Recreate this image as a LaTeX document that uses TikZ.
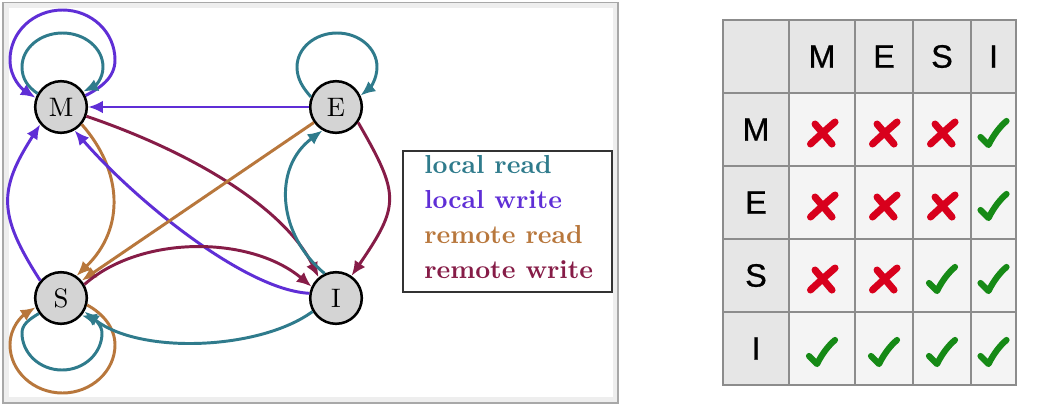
\documentclass[tikz,border=0pt]{standalone}
\usepackage{fontspec}
\newfontfamily\tablefont[FakeBold=0.8]{Liberation Sans}
\newfontfamily\statefont{lmroman10-regular}[Extension=.otf]
\newfontfamily\legendfont{lmroman10-bold}[Extension=.otf]
\usetikzlibrary{arrows.meta}

\definecolor{lread}{HTML}{2F7B8C}
\definecolor{lwrite}{HTML}{5F2ED6}
\definecolor{rread}{HTML}{B8773C}
\definecolor{rwrite}{HTML}{861C47}
\definecolor{stategray}{HTML}{D4D4D4}
\definecolor{panelband}{HTML}{EEEEEE}
\definecolor{panelline}{HTML}{A8A8A8}
\definecolor{gridgray}{HTML}{8C8C8C}
\definecolor{headfill}{HTML}{E6E6E6}
\definecolor{bodyfill}{HTML}{F4F4F4}
\definecolor{crossred}{HTML}{D8001C}
\definecolor{checkgreen}{HTML}{168A16}

\begin{document}
\begin{tikzpicture}[x=0.025cm,y=-0.025cm,
  state/.style={circle,draw=black,line width=1.8pt,fill=stategray,
    minimum size=1.29cm,inner sep=0pt,font=\statefont\fontsize{19}{22}\selectfont},
  link/.style={line width=2.1pt,-{Latex[length=10.5pt,width=9pt]}},
  lr/.style={link,draw=lread},
  lw/.style={link,draw=lwrite},
  rr/.style={link,draw=rread},
  rw/.style={link,draw=rwrite},
  legendtext/.style={anchor=base west,inner sep=0pt,
    font=\legendfont\fontsize{18.5}{22}\selectfont},
  cellhead/.style={inner sep=0pt,font=\tablefont\fontsize{23}{27}\selectfont},
  gridline/.style={draw=gridgray,line width=1.4pt},
  nomark/.pic={
    \draw[crossred,line width=5pt,line cap=round]
      (-11.5,11) .. controls (-3,3) and (5,-4) .. (13,-11);
    \draw[crossred,line width=5pt,line cap=round]
      (-7,-9) .. controls (-1,-2) and (4,4) .. (10,11);
  },
  yesmark/.pic={
    \draw[checkgreen,line width=4.4pt,line cap=round,line join=round]
      (-13,4) -- (-5,12) .. controls (0,2) and (6,-6) .. (13,-12);
  }
]
\useasboundingbox (0,0) rectangle (1044,410);
\fill[white] (0,0) rectangle (1044,410);

% ---- state diagram panel ----
\draw[draw=panelline,line width=1.1pt,fill=panelband] (3,2.5) rectangle (618,403);
\fill[white] (9,8) rectangle (613,397);

\node[state] (M) at (61,107) {M};
\node[state] (E) at (336,107) {E};
\node[state] (S) at (61,298) {S};
\node[state] (I) at (336,298) {I};

% self loops (drawn as four quarter segments each)
\draw[lw] (M.25) .. controls (100,88) and (115,78) .. (115,60)
  .. controls (115,32) and (91.5,10) .. (62.5,10)
  .. controls (33.5,10) and (10,32) .. (10,60)
  .. controls (10,78) and (22,89) .. (M.160);
\draw[lr] (M.150) .. controls (28,87) and (22,79) .. (22,67)
  .. controls (22,48.2) and (40.1,33) .. (62.5,33)
  .. controls (84.9,33) and (103,48.2) .. (103,67)
  .. controls (103,79) and (95,86) .. (M.35);
\draw[lr] (E.158) .. controls (303,88) and (297,79) .. (297,67)
  .. controls (297,48.2) and (314.9,33) .. (337,33)
  .. controls (359.1,33) and (377,48.2) .. (377,67)
  .. controls (377,79) and (370,88) .. (E.25);
\draw[rr] (S.-15) .. controls (102,313) and (115,327) .. (115,345)
  .. controls (115,371) and (91.5,393) .. (62.5,393)
  .. controls (33.5,393) and (10,371) .. (10,345)
  .. controls (10,327) and (22,316) .. (S.200);
\draw[lr] (S.215) .. controls (28,320) and (22,325) .. (22,333)
  .. controls (22,353.4) and (39.9,370) .. (62,370)
  .. controls (84.1,370) and (102,353.4) .. (102,333)
  .. controls (102,325) and (94,319) .. (S.-40);

% transitions between states
\draw[lw] (E.180) -- (M.0);
\draw[rw] (M.-20) .. controls (186,150) and (283,205) .. (I.130);
\draw[rr] (M.-40) .. controls (122,170) and (126,228) .. (S.55);
\draw[lw] (I.170) .. controls (245,290) and (135,200) .. (M.-60);
\draw[lw] (S.140) .. controls (-2,215) and (-2,190) .. (M.220);
\draw[rr] (E.215) -- (S.40);
\draw[rw] (S.30) .. controls (140,235) and (250,235) .. (I.155);
\draw[lr] (I.115) .. controls (278,235) and (272,168) .. (E.240);
\draw[rw] (E.-35) .. controls (400,195) and (400,205) .. (I.55);
\draw[lr] (I.210) .. controls (260,350) and (140,355) .. (S.-30);

% legend
\draw[draw=black!80,line width=1.1pt,fill=white] (403,151) rectangle (612,292);
\node[legendtext,text=lread]  (k1) at (424,173) {local read};
\node[legendtext,text=lwrite] (k2) at (424,208) {local write};
\node[legendtext,text=rread]  (k3) at (424,243) {remote read};
\node[legendtext,text=rwrite] (k4) at (424,278) {remote write};

% ---- compatibility table ----
\fill[headfill] (723,20) rectangle (1016,93);
\fill[headfill] (723,93) rectangle (789,385);
\fill[bodyfill] (789,93) rectangle (1016,385);
\foreach \gx in {789,855,913,971} \draw[gridline] (\gx,20) -- (\gx,385);
\foreach \gy in {93,166,239,312} \draw[gridline] (723,\gy) -- (1016,\gy);
\draw[gridline] (723,20) rectangle (1016,385);

\node[cellhead] (cM) at (822,56.5) {M};
\node[cellhead] (cE) at (884,56.5) {E};
\node[cellhead] (cS) at (942,56.5) {S};
\node[cellhead] (cI) at (993.5,56.5) {I};
\node[cellhead] (rM) at (756,129.5) {M};
\node[cellhead] (rE) at (756,202.5) {E};
\node[cellhead] (rS) at (756,275.5) {S};
\node[cellhead] (rI) at (756,348.5) {I};

% row M
\pic at (822,133) {nomark};
\pic at (884,133) {nomark};
\pic at (942,133) {nomark};
\pic at (993.5,133) {yesmark};
% row E
\pic at (822,206) {nomark};
\pic at (884,206) {nomark};
\pic at (942,206) {nomark};
\pic at (993.5,206) {yesmark};
% row S
\pic at (822,279) {nomark};
\pic at (884,279) {nomark};
\pic at (942,279) {yesmark};
\pic at (993.5,279) {yesmark};
% row I
\pic at (822,352) {yesmark};
\pic at (884,352) {yesmark};
\pic at (942,352) {yesmark};
\pic at (993.5,352) {yesmark};
\end{tikzpicture}
\end{document}
